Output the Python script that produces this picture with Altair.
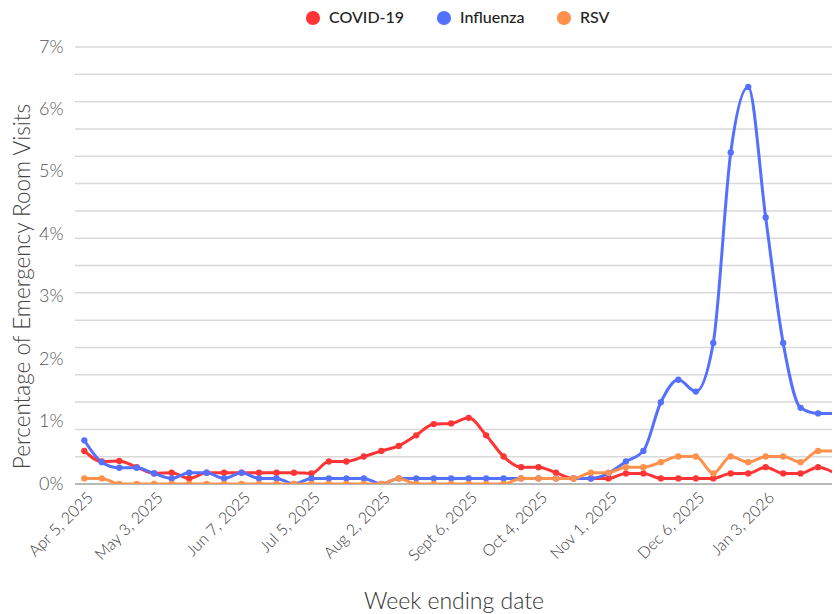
import altair as alt
import pandas as pd

# Week-ending dates (Saturdays), Apr 5, 2025 .. Jan 31, 2026
weeks = [d.strftime("%Y-%m-%d") for d in pd.date_range("2025-04-05", periods=44, freq="7D")]

covid = [0.53, 0.36, 0.37, 0.27, 0.17, 0.18, 0.09, 0.18, 0.18, 0.18,
         0.18, 0.18, 0.18, 0.17, 0.36, 0.36, 0.44, 0.53, 0.61, 0.78,
         0.96, 0.97, 1.06, 0.78, 0.44, 0.27, 0.27, 0.18, 0.09, 0.09,
         0.09, 0.17, 0.17, 0.09, 0.09, 0.09, 0.09, 0.17, 0.17, 0.27,
         0.17, 0.17, 0.27, 0.17]
influenza = [0.70, 0.35, 0.26, 0.26, 0.17, 0.09, 0.18, 0.18, 0.09, 0.18,
             0.09, 0.09, 0.00, 0.09, 0.09, 0.09, 0.09, 0.00, 0.09, 0.09,
             0.09, 0.09, 0.09, 0.09, 0.09, 0.09, 0.09, 0.09, 0.09, 0.09,
             0.17, 0.36, 0.53, 1.31, 1.67, 1.48, 2.26, 5.31, 6.36, 4.27,
             2.26, 1.22, 1.13, 1.13]
rsv = [0.09, 0.09, 0.00, 0.00, 0.00, 0.00, 0.00, 0.00, 0.00, 0.00,
       0.00, 0.00, 0.00, 0.00, 0.00, 0.00, 0.00, 0.00, 0.09, 0.00,
       0.00, 0.00, 0.00, 0.00, 0.00, 0.09, 0.09, 0.09, 0.09, 0.18,
       0.18, 0.27, 0.27, 0.35, 0.44, 0.44, 0.17, 0.44, 0.35, 0.44,
       0.44, 0.35, 0.53, 0.53]

series_names = ["COVID-19", "Influenza", "RSV"]
series_colors = ["#FF3535", "#5470FF", "#FF914D"]

tick_dates = ["2025-04-05", "2025-05-03", "2025-06-07", "2025-07-05", "2025-08-02",
              "2025-09-06", "2025-10-04", "2025-11-01", "2025-12-06", "2026-01-03"]
y_labels = [0, 1, 2, 3, 4, 5, 6, 7]
grid_values = [7 * k / 16 for k in range(1, 17)]

rows = []
for name, vals in zip(series_names, [covid, influenza, rsv]):
    for w, v in zip(weeks, vals):
        rows.append({"date": w, "series": name, "value": v})
df = pd.DataFrame(rows)


def ms(s):
    return int(pd.Timestamp(s, tz="UTC").value // 10**6)


W, H = 757, 437
day = 86400000
x_start = ms("2025-04-05") - int(3.73 * day)
x_domain = [x_start, x_start + int(303.3 * day)]
x_scale = alt.Scale(type="utc", domain=x_domain)
y_scale = alt.Scale(domain=[0, 7], nice=False, zero=True)

FONT = "Lato"

y_axis = alt.Axis(
    values=y_labels,
    labelExpr="datum.value + '%'",
    labelFontSize=18,
    labelColor="#555555",
    labelFont=FONT,
    labelFontWeight=300,
    labelPadding=12,
    ticks=False,
    domain=False,
    grid=False,
    title="Percentage of Emergency Room Visits",
    titleFontSize=22.5,
    titleFontWeight=300,
    titleColor="#444444",
    titleFont=FONT,
    titlePadding=4,
    titleY=239,
)

x_axis = alt.Axis(
    values=[ms(d) for d in tick_dates],
    labelExpr="replace(utcFormat(datum.value, '%b %-d, %Y'), 'Sep ', 'Sept ')",
    labelAngle=-45,
    labelFontSize=16,
    labelColor="#3a3a3a",
    labelFont=FONT,
    labelFontWeight=300,
    labelPadding=5,
    ticks=False,
    domain=False,
    grid=False,
    title="Week ending date",
    titleFontSize=23,
    titleFontWeight=300,
    titleColor="#333333",
    titleFont=FONT,
    titlePadding=27,
    labelOverlap=False,
)

legend = alt.Legend(
    title=None,
    orient="none",
    direction="horizontal",
    legendX=230,
    legendY=-37,
    symbolType="circle",
    symbolSize=200,
    symbolOpacity=1,
    symbolStrokeWidth=0,
    labelFontSize=16,
    labelFont=FONT,
    labelFontWeight=500,
    labelColor="#222222",
    columnPadding=31,
    labelOffset=8,
)

color_scale = alt.Scale(domain=series_names, range=series_colors)

x_enc = alt.X("date:T", scale=x_scale, axis=x_axis)
y_enc = alt.Y("value:Q", scale=y_scale, axis=y_axis)

grid = alt.Chart(pd.DataFrame({"value": grid_values})).mark_rule(
    color="#d9d9d9", strokeWidth=1.5
).encode(y=y_enc, x=alt.value(0), x2=alt.value(W))

base_rule = alt.Chart(pd.DataFrame({"value": [0]})).mark_rule(
    color="#a0a0a0", strokeWidth=1.5
).encode(y=y_enc, x=alt.value(0), x2=alt.value(W))

lines = alt.Chart(df).mark_line(interpolate="monotone", strokeWidth=3, clip=True).encode(
    x=x_enc,
    y=y_enc,
    color=alt.Color("series:N", scale=color_scale, legend=legend),
)

points = alt.Chart(df).mark_point(size=40, filled=True, opacity=1, shape="circle", clip=True).encode(
    x=x_enc,
    y=y_enc,
    color=alt.Color("series:N", scale=color_scale, legend=legend),
)

chart = alt.layer(grid, base_rule, lines, points).properties(
    width=W,
    height=H,
    autosize=alt.AutoSizeParams(type="none"),
    padding={"left": 67, "top": 39, "right": 0, "bottom": 130},
).configure(font=FONT).configure_view(strokeWidth=0, stroke=None)

chart.save("out.html", embed_options={"renderer": "svg", "actions": False})
